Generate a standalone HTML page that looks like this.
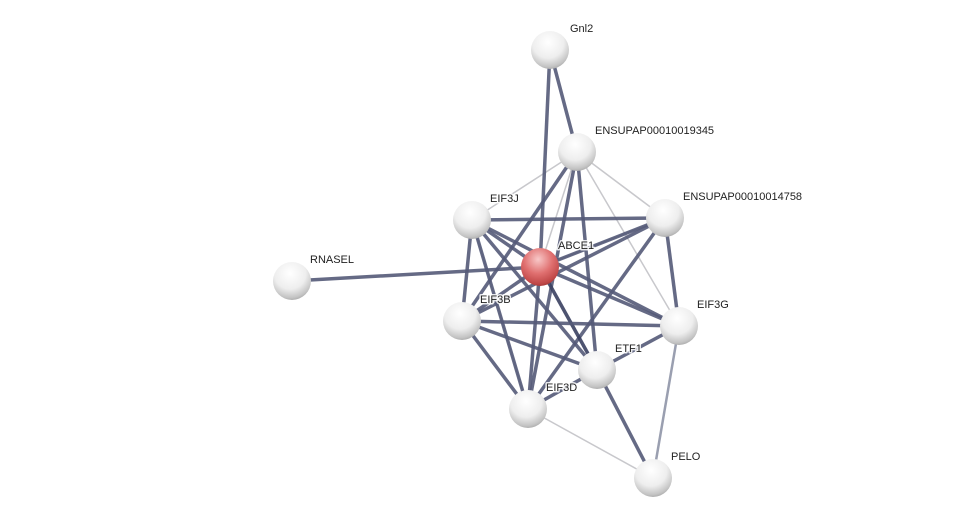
<!DOCTYPE html>
<html><head><meta charset="utf-8"><style>html,body{margin:0;padding:0;background:#fff}svg{display:block}</style></head>
<body>
<svg width="975" height="523" viewBox="0 0 975 523" xmlns="http://www.w3.org/2000/svg">
<defs>
<radialGradient id="g" cx="0.45" cy="0.3" r="0.75">
<stop offset="0" stop-color="#ffffff"/><stop offset="0.55" stop-color="#eeeeee"/><stop offset="0.85" stop-color="#c4c4c4"/><stop offset="1" stop-color="#a0a0a0"/>
</radialGradient>
<radialGradient id="r" cx="0.45" cy="0.3" r="0.75">
<stop offset="0" stop-color="#f8c8c8"/><stop offset="0.5" stop-color="#e07070"/><stop offset="0.85" stop-color="#c04848"/><stop offset="1" stop-color="#983030"/>
</radialGradient>
</defs>
<g stroke="#c8c8cc" stroke-width="1.5">
<line x1="577" y1="152" x2="472" y2="220"/>
<line x1="577" y1="152" x2="665" y2="218"/>
<line x1="577" y1="152" x2="679" y2="326"/>
<line x1="528" y1="409" x2="653" y2="478"/>
<line x1="540" y1="267" x2="665" y2="218" stroke="#b0b0b8"/>
<line x1="577" y1="152" x2="540" y2="267"/>
<line x1="472" y1="220" x2="528" y2="409" stroke="#c0c0c8"/>
</g>
<line x1="679" y1="326" x2="653" y2="478" stroke="#9a9fb0" stroke-width="2.5"/>
<g stroke="#545a78" stroke-width="3.5" stroke-opacity="0.9">
<line x1="550" y1="50" x2="577" y2="152"/>
<line x1="550" y1="50" x2="540" y2="267"/>
<line x1="292" y1="281" x2="540" y2="267"/>
<line x1="577" y1="152" x2="462" y2="321"/>
<line x1="577" y1="152" x2="528" y2="409"/>
<line x1="577" y1="152" x2="597" y2="370"/>
<line x1="472" y1="220" x2="665" y2="218"/>
<line x1="472" y1="220" x2="540" y2="267"/>
<line x1="472" y1="220" x2="462" y2="321"/>
<line x1="472" y1="220" x2="528" y2="409"/>
<line x1="472" y1="220" x2="597" y2="370"/>
<line x1="472" y1="220" x2="679" y2="326"/>
<line x1="665" y1="218" x2="540" y2="267"/>
<line x1="665" y1="218" x2="462" y2="321"/>
<line x1="665" y1="218" x2="679" y2="326"/>
<line x1="665" y1="218" x2="528" y2="409"/>
<line x1="540" y1="267" x2="462" y2="321"/>
<line x1="540" y1="267" x2="679" y2="326"/>
<line x1="540" y1="267" x2="597" y2="370" stroke="#3a4060"/>
<line x1="540" y1="267" x2="528" y2="409"/>
<line x1="462" y1="321" x2="679" y2="326"/>
<line x1="462" y1="321" x2="528" y2="409"/>
<line x1="462" y1="321" x2="597" y2="370"/>
<line x1="679" y1="326" x2="597" y2="370"/>
<line x1="597" y1="370" x2="653" y2="478"/>
<line x1="597" y1="370" x2="528" y2="409"/>
</g>
<g>
<circle cx="550" cy="50" r="19" fill="url(#g)"/>
<circle cx="577" cy="152" r="19" fill="url(#g)"/>
<circle cx="472" cy="220" r="19" fill="url(#g)"/>
<circle cx="665" cy="218" r="19" fill="url(#g)"/>
<circle cx="292" cy="281" r="19" fill="url(#g)"/>
<circle cx="462" cy="321" r="19" fill="url(#g)"/>
<circle cx="679" cy="326" r="19" fill="url(#g)"/>
<circle cx="597" cy="370" r="19" fill="url(#g)"/>
<circle cx="528" cy="409" r="19" fill="url(#g)"/>
<circle cx="653" cy="478" r="19" fill="url(#g)"/>
<circle cx="540" cy="267" r="19" fill="url(#r)"/>
</g>
<g font-family="Liberation Sans, sans-serif" font-size="11" fill="#222" stroke="#fff" stroke-width="3" stroke-opacity="0.85" paint-order="stroke" stroke-linejoin="round">
<text x="570" y="32">Gnl2</text>
<text x="595" y="134">ENSUPAP00010019345</text>
<text x="490" y="202">EIF3J</text>
<text x="683" y="200">ENSUPAP00010014758</text>
<text x="310" y="263">RNASEL</text>
<text x="558" y="249">ABCE1</text>
<text x="480" y="303">EIF3B</text>
<text x="697" y="308">EIF3G</text>
<text x="615" y="352">ETF1</text>
<text x="546" y="391">EIF3D</text>
<text x="671" y="460">PELO</text>
</g>
</svg>
</body></html>
